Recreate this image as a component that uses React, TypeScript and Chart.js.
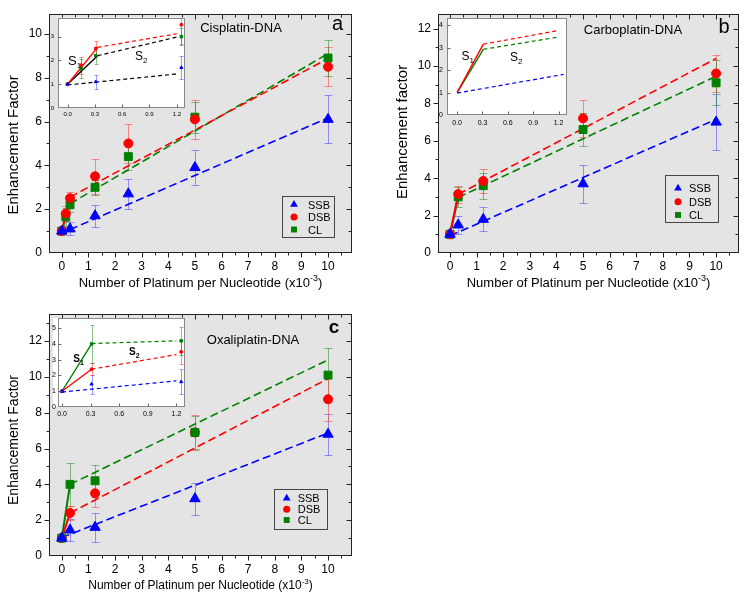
import { useEffect, useRef } from "react";
import { Chart, registerables } from "chart.js";

Chart.register(...registerables);

const FONT = "'Liberation Sans', Arial, Helvetica, sans-serif";
Chart.defaults.font.family = FONT;

const SERIES = ["SSB", "DSB", "CL"];
const STYLES = ["triangle", "circle", "rect"];
const COLORS = ["#0000ff", "#ff0000", "#008000"];
const ERR_COLORS = ["rgba(70,70,255,0.55)", "rgba(255,70,70,0.6)", "rgba(0,120,0,0.45)"];
const BLACK = "#000000";

// ---------- tick labels ----------
const MAIN_X_TICKS = [0, 1, 2, 3, 4, 5, 6, 7, 8, 9, 10];
const MAIN_X_MINOR = [0.5, 1.5, 2.5, 3.5, 4.5, 5.5, 6.5, 7.5, 8.5, 9.5, 10.5];
const A_Y_TICKS = [0, 2, 4, 6, 8, 10];
const A_Y_MINOR = [1, 3, 5, 7, 9];
const BC_Y_TICKS = [0, 2, 4, 6, 8, 10, 12];
const BC_Y_MINOR = [1, 3, 5, 7, 9, 11, 13];
const INSET_X_TICKS = [0, 0.3, 0.6, 0.9, 1.2];
const AI_Y_TICKS = [0, 1, 2, 3];
const BI_Y_TICKS = [0, 1, 2, 3, 4];
const CI_Y_TICKS = [0, 1, 2, 3, 4, 5];

// ---------- Panel a : Cisplatin-DNA ----------
const A_X_SSB = [0, 0.31, 1.25, 2.5, 5, 10];
const A_SSB = [1.0, 1.1, 1.7, 2.7, 3.9, 6.1];
const A_SSB_ERR = [0, 0.3, 0.5, 0.7, 0.8, 1.1];
const A_X = [0, 0.15, 0.31, 1.25, 2.5, 5, 10];
const A_DSB = [1.0, 1.8, 2.5, 3.5, 5.0, 6.1, 8.5];
const A_DSB_ERR = [0, 0.35, 0.3, 0.8, 0.9, 0.9, 0.9];
const A_CL = [1.0, 1.65, 2.2, 3.0, 4.4, 6.2, 8.9];
const A_CL_ERR = [0, 0.4, 0.35, 0.35, 0.6, 0.7, 0.8];
const A_S1_X = [0, 0.31];
const A_S1_DSB = [1.0, 2.55];
const A_S1_CL = [1.0, 2.25];
const A_S2_X = [0.31, 10];
const A_S2_SSB = [1.07, 6.17];
const A_S2_DSB = [2.55, 8.88];
const A_S2_CL = [2.25, 9.1];
// inset a
const AI_S1_X = [0, 0.33];
const AI_S1_DSB = [1.0, 2.55];
const AI_S1_CL = [1.0, 2.2];
const AI_S2_X = [0.33, 1.2];
const AI_S2_DSB = [2.55, 3.12];
const AI_S2_CL = [2.2, 2.98];
const AI_SSB_FIT_X = [0, 1.2];
const AI_SSB_FIT = [0.97, 1.43];

// ---------- Panel b : Carboplatin-DNA ----------
const B_X = [0, 0.31, 1.25, 5, 10];
const B_SSB = [1.0, 1.5, 1.8, 3.7, 7.0];
const B_SSB_ERR = [0, 0.5, 0.65, 1.0, 1.5];
const B_DSB = [1.0, 3.15, 3.85, 7.2, 9.6];
const B_DSB_ERR = [0, 0.45, 0.65, 1.0, 1.0];
const B_CL = [1.0, 3.0, 3.6, 6.6, 9.1];
const B_CL_ERR = [0, 0.55, 0.7, 0.9, 1.2];
const B_S1_X = [0, 0.31];
const B_S1_DSB = [1.0, 3.14];
const B_S1_CL = [1.0, 2.97];
const B_S2_X = [0.31, 10];
const B_S2_DSB = [3.14, 10.4];
const B_S2_CL = [2.97, 9.45];
const B_SSB_FIT_X = [0, 10];
const B_SSB_FIT = [0.92, 7.15];
// inset b
const BI_S1_X = [0, 0.31];
const BI_S1_DSB = [1.0, 3.16];
const BI_S1_CL = [1.0, 2.93];
const BI_S2_X = [0.31, 1.2];
const BI_S2_DSB = [3.16, 3.77];
const BI_S2_CL = [2.93, 3.48];
const BI_SSB_FIT_X = [0, 1.26];
const BI_SSB_FIT = [0.98, 1.81];

// ---------- Panel c : Oxaliplatin-DNA ----------
const C_X = [0, 0.31, 1.25, 5, 10];
const C_SSB = [1.0, 1.45, 1.6, 3.2, 6.8];
const C_SSB_ERR = [0, 0.6, 0.8, 0.9, 1.15];
const C_DSB = [1.0, 2.4, 3.5, 6.9, 8.75];
const C_DSB_ERR = [0, 0.4, 0.75, 1.0, 1.2];
const C_CL = [1.0, 4.0, 4.2, 6.9, 10.1];
const C_CL_ERR = [0, 1.2, 0.9, 0.9, 1.5];
const C_S1_X = [0, 0.31];
const C_S1_DSB = [1.0, 2.4];
const C_S1_CL = [1.0, 4.0];
const C_S2_X = [0.31, 10];
const C_S2_DSB = [2.4, 9.9];
const C_S2_CL = [4.0, 10.95];
const C_SSB_FIT_X = [0, 10];
const C_SSB_FIT = [1.03, 6.87];
// inset c
const CI_S1_X = [0, 0.31];
const CI_S1_DSB = [1.0, 2.4];
const CI_S1_CL = [1.0, 4.0];
const CI_S2_X = [0.31, 1.2];
const CI_S2_DSB = [2.4, 3.33];
const CI_S2_CL = [4.03, 4.2];
const CI_SSB_FIT_X = [0, 1.2];
const CI_SSB_FIT = [0.95, 1.66];

// ---------- helpers ----------
const toPts = (xs: number[], ys: number[]) => xs.map((x, i) => ({ x, y: ys[i] }));

function ptDs(k: number, xs: number[], ys: number[], err: number[], r: number) {
  return {
    label: SERIES[k],
    data: toPts(xs, ys),
    err,
    errColor: ERR_COLORS[k],
    showLine: false,
    pointStyle: STYLES[k],
    pointRadius: r,
    pointBackgroundColor: COLORS[k],
    pointBorderColor: COLORS[k],
    pointBorderWidth: 1,
  };
}

function lnDs(xs: number[], ys: number[], color: string, dash: number[], width: number) {
  return {
    data: toPts(xs, ys),
    showLine: true,
    borderColor: color,
    borderWidth: width,
    borderDash: dash,
    pointRadius: 0,
    fill: false,
    tension: 0,
  };
}

function drawRich(ctx: any, item: any) {
  const fontOf = (s: any) => `${s.b ? "bold " : ""}${s.s}px ${FONT}`;
  ctx.save();
  ctx.fillStyle = item.color || "#000";
  ctx.textBaseline = item.rot ? "middle" : "alphabetic";
  ctx.textAlign = "left";
  let total = 0;
  const widths = item.segs.map((s: any) => {
    ctx.font = fontOf(s);
    const w = ctx.measureText(s.t).width;
    total += w;
    return w;
  });
  ctx.translate(item.x, item.y);
  if (item.rot) ctx.rotate(-Math.PI / 2);
  let x = item.align === "center" ? -total / 2 : item.align === "right" ? -total : 0;
  item.segs.forEach((s: any, i: number) => {
    ctx.font = fontOf(s);
    ctx.fillText(s.t, x, s.dy || 0);
    x += widths[i];
  });
  ctx.restore();
}

function drawMarker(ctx: any, style: string, x: number, y: number, r: number, color: string) {
  ctx.save();
  ctx.fillStyle = color;
  ctx.beginPath();
  if (style === "triangle") {
    for (let i = 0; i < 3; i++) {
      const a = (i * 2 * Math.PI) / 3;
      const px = x + Math.sin(a) * r;
      const py = y - Math.cos(a) * r;
      if (i === 0) ctx.moveTo(px, py);
      else ctx.lineTo(px, py);
    }
    ctx.closePath();
  } else if (style === "circle") {
    ctx.arc(x, y, r, 0, Math.PI * 2);
  } else {
    const s = r * Math.SQRT1_2;
    ctx.rect(x - s, y - s, 2 * s, 2 * s);
  }
  ctx.fill();
  ctx.restore();
}

function makePlugin(o: any) {
  return {
    id: "panelDecor",
    beforeDraw(chart: any) {
      const { ctx, chartArea: a } = chart;
      const ext = o.bgExtendLeft || 0;
      ctx.save();
      ctx.fillStyle = o.bg;
      ctx.fillRect(a.left - ext, a.top, a.right - a.left + ext, a.bottom - a.top);
      ctx.restore();
    },
    beforeDatasetsDraw(chart: any) {
      const { ctx, chartArea: a } = chart;
      const xs = chart.scales.x;
      const ys = chart.scales.y;
      ctx.save();
      ctx.beginPath();
      ctx.rect(a.left, a.top, a.right - a.left, a.bottom - a.top);
      ctx.clip();
      chart.data.datasets.forEach((ds: any) => {
        if (!ds.err) return;
        ctx.strokeStyle = ds.errColor;
        ctx.lineWidth = 1;
        ds.data.forEach((p: any, j: number) => {
          const e = ds.err[j];
          if (!e) return;
          const x = Math.round(xs.getPixelForValue(p.x)) + 0.5;
          const y1 = Math.round(ys.getPixelForValue(p.y + e)) + 0.5;
          const y2 = Math.round(ys.getPixelForValue(p.y - e)) + 0.5;
          const c = o.cap;
          ctx.beginPath();
          ctx.moveTo(x, y1);
          ctx.lineTo(x, y2);
          ctx.moveTo(x - c, y1);
          ctx.lineTo(x + c, y1);
          ctx.moveTo(x - c, y2);
          ctx.lineTo(x + c, y2);
          ctx.stroke();
        });
      });
      ctx.restore();
    },
    afterDatasetsDraw(chart: any) {
      const { ctx, chartArea: a } = chart;
      const xs = chart.scales.x;
      const ys = chart.scales.y;
      const tk = o.tk;
      const L = Math.round(a.left) + 0.5;
      const R = Math.round(a.right) - 0.5;
      const T = Math.round(a.top) + 0.5;
      const B = Math.round(a.bottom) - 0.5;
      ctx.save();
      ctx.strokeStyle = o.frame;
      ctx.lineWidth = 1;
      ctx.strokeRect(L, T, R - L, B - T);
      ctx.strokeStyle = tk.color;
      ctx.beginPath();
      const xt = (v: number, len: number) => {
        const p = Math.round(xs.getPixelForValue(v)) + 0.5;
        if (p < L || p > R) return;
        ctx.moveTo(p, B);
        ctx.lineTo(p, B + tk.dir * len);
        if (tk.top) {
          ctx.moveTo(p, T);
          ctx.lineTo(p, T + len);
        }
      };
      const yt = (v: number, len: number) => {
        const p = Math.round(ys.getPixelForValue(v)) + 0.5;
        if (p < T || p > B) return;
        ctx.moveTo(L, p);
        ctx.lineTo(L - tk.dir * len, p);
        if (tk.right) {
          ctx.moveTo(R, p);
          ctx.lineTo(R - len, p);
        }
      };
      tk.xMajor.forEach((v: number) => xt(v, tk.major));
      (tk.xMinor || []).forEach((v: number) => xt(v, tk.minor));
      tk.yMajor.forEach((v: number) => yt(v, tk.major));
      (tk.yMinor || []).forEach((v: number) => yt(v, tk.minor));
      ctx.stroke();
      ctx.restore();
    },
    afterDraw(chart: any) {
      const ctx = chart.ctx;
      if (o.legend) {
        const lg = o.legend;
        ctx.save();
        ctx.strokeStyle = "#444";
        ctx.lineWidth = 1;
        ctx.strokeRect(Math.round(lg.box[0]) + 0.5, Math.round(lg.box[1]) + 0.5, Math.round(lg.box[2] - lg.box[0]), Math.round(lg.box[3] - lg.box[1]));
        SERIES.forEach((name, k) => {
          const y = lg.rows[k];
          drawMarker(ctx, STYLES[k], lg.mx, y, lg.r[k], COLORS[k]);
          drawRich(ctx, { segs: [{ t: name, s: 11 }], x: lg.tx, y: y + 4, align: "left" });
        });
        ctx.restore();
      }
      (o.texts || []).forEach((t: any) => drawRich(ctx, t));
    },
  };
}

function makeConfig(o: any) {
  const a = o.area;
  return {
    type: "scatter",
    data: { datasets: o.datasets },
    options: {
      responsive: false,
      maintainAspectRatio: false,
      animation: false,
      devicePixelRatio: 1,
      events: [],
      layout: { padding: { left: 0, top: a.t, right: o.w - a.r, bottom: 0 } },
      plugins: { legend: { display: false }, tooltip: { enabled: false }, title: { display: false } },
      scales: {
        x: {
          type: "linear",
          bounds: "data",
          min: o.x[0],
          max: o.x[1],
          afterBuildTicks: (s: any) => {
            s.ticks = o.xTicks.map((v: number) => ({ value: v }));
          },
          afterFit: (s: any) => {
            s.height = o.h - a.b;
          },
          grid: { display: false, drawTicks: false },
          border: { display: false },
          ticks: {
            autoSkip: false,
            maxRotation: 0,
            padding: o.xPad,
            color: "#000",
            font: { size: o.tickSize, family: FONT },
            callback: (v: any) => (o.xFixed ? Number(v).toFixed(1) : String(v)),
          },
        },
        y: {
          type: "linear",
          bounds: "data",
          min: o.y[0],
          max: o.y[1],
          afterBuildTicks: (s: any) => {
            s.ticks = o.yTicks.map((v: number) => ({ value: v }));
          },
          afterFit: (s: any) => {
            s.width = a.l;
          },
          grid: { display: false, drawTicks: false },
          border: { display: false },
          ticks: {
            autoSkip: false,
            padding: o.yPad,
            color: "#000",
            font: { size: o.tickSize, family: FONT },
            callback: (v: any) => String(v),
          },
        },
      },
    },
    plugins: [makePlugin(o)],
  };
}

const xTitle = (s: number) => [
  { t: "Number of Platinum per Nucleotide (x10", s },
  { t: "-3", s: Math.round(s * 0.7), dy: -Math.round(s * 0.45) },
  { t: ")", s },
];

const MAIN_BG = "#e4e4e4";
const MAIN_TK = (yMajor: number[], yMinor: number[]) => ({
  xMajor: MAIN_X_TICKS,
  xMinor: MAIN_X_MINOR,
  yMajor,
  yMinor,
  major: 5,
  minor: 3,
  dir: 1,
  top: true,
  right: true,
  color: "#222",
});
const INSET_TK = (yMajor: number[]) => ({
  xMajor: INSET_X_TICKS,
  yMajor,
  major: 3,
  minor: 2,
  dir: -1,
  top: false,
  right: false,
  color: "#666",
});

const R_MAIN = [6, 4.5, 5.6];

// ---------- panel specs ----------
const A_MAIN = {
  left: 0, top: 0, w: 370, h: 300,
  area: { l: 49, t: 12, r: 352, b: 253 },
  x: [-0.48, 10.9], y: [0, 10.9],
  xTicks: MAIN_X_TICKS, yTicks: A_Y_TICKS, tickSize: 12, xPad: 6, yPad: 7,
  bg: MAIN_BG, frame: "#222", cap: 4, tk: MAIN_TK(A_Y_TICKS, A_Y_MINOR),
  datasets: [
    ptDs(0, A_X_SSB, A_SSB, A_SSB_ERR, R_MAIN[0]),
    ptDs(1, A_X, A_DSB, A_DSB_ERR, R_MAIN[1]),
    ptDs(2, A_X, A_CL, A_CL_ERR, R_MAIN[2]),
    lnDs(A_S1_X, A_S1_DSB, COLORS[1], [], 2),
    lnDs(A_S1_X, A_S1_CL, COLORS[2], [], 2),
    lnDs(A_S2_X, A_S2_SSB, COLORS[0], [8, 4], 1.6),
    lnDs(A_S2_X, A_S2_DSB, COLORS[1], [8, 4], 1.6),
    lnDs(A_S2_X, A_S2_CL, COLORS[2], [8, 4], 1.6),
  ],
  legend: { box: [281.5, 196, 333.5, 237], rows: [204.5, 217, 229.5], mx: 294, tx: 308, r: [4.5, 3.5, 4.2] },
  texts: [
    { segs: [{ t: "Cisplatin-DNA", s: 13 }], x: 241, y: 31.5, align: "center" },
    { segs: [{ t: "a", s: 20 }], x: 337.5, y: 29.5, align: "center" },
    { segs: xTitle(13), x: 200.5, y: 287, align: "center" },
    { segs: [{ t: "Enhancement Factor", s: 15 }], x: 14, y: 145, align: "center", rot: true },
  ],
};

const A_INSET = {
  left: 40, top: 10, w: 152, h: 112,
  area: { l: 18, t: 4, r: 145, b: 98 },
  x: [-0.105, 1.29], y: [0, 3.8],
  xTicks: INSET_X_TICKS, xFixed: true, yTicks: AI_Y_TICKS, tickSize: 6, xPad: 3, yPad: 4,
  bg: "#ffffff", frame: "#888", cap: 2, tk: INSET_TK(AI_Y_TICKS),
  datasets: [
    ptDs(0, A_X_SSB, A_SSB, A_SSB_ERR, 1.8),
    ptDs(1, A_X, A_DSB, A_DSB_ERR, 1.5),
    ptDs(2, A_X, A_CL, A_CL_ERR, 1.8),
    lnDs(AI_S1_X, AI_S1_DSB, COLORS[1], [], 1.4),
    lnDs(AI_S1_X, AI_S1_CL, BLACK, [], 1.4),
    lnDs(AI_S2_X, AI_S2_DSB, COLORS[1], [4, 3], 1.2),
    lnDs(AI_S2_X, AI_S2_CL, BLACK, [4, 3], 1.2),
    lnDs(AI_SSB_FIT_X, AI_SSB_FIT, BLACK, [4, 3], 1.2),
  ],
  texts: [
    { segs: [{ t: "S", s: 13 }, { t: "1", s: 8, dy: 3 }], x: 28, y: 55, align: "left" },
    { segs: [{ t: "S", s: 12 }, { t: "2", s: 8, dy: 3 }], x: 95, y: 50, align: "left" },
  ],
};

const B_MAIN = {
  left: 370, top: 0, w: 379, h: 300,
  area: { l: 68, t: 4, r: 369, b: 253 },
  x: [-0.45, 10.86], y: [0, 12.77],
  xTicks: MAIN_X_TICKS, yTicks: BC_Y_TICKS, tickSize: 12, xPad: 6, yPad: 7,
  bg: MAIN_BG, frame: "#222", cap: 4, tk: MAIN_TK(BC_Y_TICKS, BC_Y_MINOR),
  datasets: [
    ptDs(0, B_X, B_SSB, B_SSB_ERR, R_MAIN[0]),
    ptDs(1, B_X, B_DSB, B_DSB_ERR, R_MAIN[1]),
    ptDs(2, B_X, B_CL, B_CL_ERR, R_MAIN[2]),
    lnDs(B_S1_X, B_S1_DSB, COLORS[1], [], 2),
    lnDs(B_S1_X, B_S1_CL, COLORS[2], [], 2),
    lnDs(B_SSB_FIT_X, B_SSB_FIT, COLORS[0], [8, 4], 1.6),
    lnDs(B_S2_X, B_S2_DSB, COLORS[1], [8, 4], 1.6),
    lnDs(B_S2_X, B_S2_CL, COLORS[2], [8, 4], 1.6),
  ],
  legend: { box: [295, 175, 348, 221.5], rows: [188.3, 201.7, 215], mx: 308, tx: 319, r: [4.5, 3.5, 4.2] },
  texts: [
    { segs: [{ t: "Carboplatin-DNA", s: 13 }], x: 263, y: 33.5, align: "center" },
    { segs: [{ t: "b", s: 20 }], x: 354, y: 33, align: "center" },
    { segs: xTitle(13), x: 218.5, y: 287, align: "center" },
    { segs: [{ t: "Enhancement factor", s: 15 }], x: 33, y: 132, align: "center", rot: true },
  ],
};

const B_INSET = {
  left: 428, top: 10, w: 148, h: 120,
  area: { l: 19, t: 6, r: 139, b: 105 },
  x: [-0.12, 1.3], y: [0, 4.32],
  xTicks: INSET_X_TICKS, xFixed: true, yTicks: BI_Y_TICKS, tickSize: 7, xPad: 4, yPad: 4,
  bg: "#ffffff", frame: "#888", cap: 2, tk: INSET_TK(BI_Y_TICKS),
  datasets: [
    lnDs(BI_S1_X, BI_S1_DSB, COLORS[1], [], 1.4),
    lnDs(BI_S1_X, BI_S1_CL, COLORS[2], [], 1.4),
    lnDs(BI_S2_X, BI_S2_DSB, COLORS[1], [4, 3], 1.2),
    lnDs(BI_S2_X, BI_S2_CL, COLORS[2], [4, 3], 1.2),
    lnDs(BI_SSB_FIT_X, BI_SSB_FIT, COLORS[0], [4, 3], 1.2),
  ],
  texts: [
    { segs: [{ t: "S", s: 12 }, { t: "1", s: 8, dy: 3 }], x: 33.5, y: 50, align: "left" },
    { segs: [{ t: "S", s: 12 }, { t: "2", s: 8, dy: 3 }], x: 82, y: 51, align: "left" },
  ],
};

const C_MAIN = {
  left: 0, top: 300, w: 370, h: 304,
  area: { l: 49, t: 12, r: 352, b: 256 },
  x: [-0.48, 10.9], y: [0, 13.5],
  xTicks: MAIN_X_TICKS, yTicks: BC_Y_TICKS, tickSize: 12, xPad: 6, yPad: 7,
  bg: MAIN_BG, frame: "#222", cap: 4, tk: MAIN_TK(BC_Y_TICKS, BC_Y_MINOR),
  datasets: [
    ptDs(0, C_X, C_SSB, C_SSB_ERR, R_MAIN[0]),
    ptDs(2, C_X, C_CL, C_CL_ERR, R_MAIN[2]),
    ptDs(1, C_X, C_DSB, C_DSB_ERR, R_MAIN[1]),
    lnDs(C_S1_X, C_S1_DSB, COLORS[1], [], 2),
    lnDs(C_S1_X, C_S1_CL, COLORS[2], [], 2),
    lnDs(C_SSB_FIT_X, C_SSB_FIT, COLORS[0], [8, 4], 1.6),
    lnDs(C_S2_X, C_S2_DSB, COLORS[1], [8, 4], 1.6),
    lnDs(C_S2_X, C_S2_CL, COLORS[2], [8, 4], 1.6),
  ],
  legend: { box: [273.5, 188.5, 326.5, 228.5], rows: [198.3, 209.3, 220], mx: 286.7, tx: 297.7, r: [4.5, 3.5, 4.2] },
  texts: [
    { segs: [{ t: "Oxaliplatin-DNA", s: 13 }], x: 253, y: 44, align: "center" },
    { segs: [{ t: "c", s: 19, b: true }], x: 334, y: 32.7, align: "center" },
    { segs: xTitle(12), x: 200.5, y: 289, align: "center" },
    { segs: [{ t: "Enhancement Factor", s: 14 }], x: 14, y: 140, align: "center", rot: true },
  ],
};

const C_INSET = {
  left: 35, top: 308, w: 160, h: 112,
  area: { l: 23, t: 10, r: 150, b: 99 },
  x: [-0.042, 1.29], y: [0, 5.65],
  xTicks: INSET_X_TICKS, xFixed: true, yTicks: CI_Y_TICKS, tickSize: 7, xPad: 3, yPad: 2,
  bg: "#ffffff", bgExtendLeft: 5, frame: "#888", cap: 2, tk: INSET_TK(CI_Y_TICKS),
  datasets: [
    ptDs(0, C_X, C_SSB, C_SSB_ERR, 1.8),
    ptDs(1, C_X, C_DSB, C_DSB_ERR, 1.5),
    ptDs(2, C_X, C_CL, C_CL_ERR, 1.8),
    lnDs(CI_S1_X, CI_S1_DSB, COLORS[1], [], 1.4),
    lnDs(CI_S1_X, CI_S1_CL, COLORS[2], [], 1.4),
    lnDs(CI_S2_X, CI_S2_DSB, COLORS[1], [4, 3], 1.2),
    lnDs(CI_S2_X, CI_S2_CL, COLORS[2], [4, 3], 1.2),
    lnDs(CI_SSB_FIT_X, CI_SSB_FIT, COLORS[0], [4, 3], 1.2),
  ],
  texts: [
    { segs: [{ t: "S", s: 10, b: true }, { t: "1", s: 7, b: true, dy: 3 }], x: 38.3, y: 53.7, align: "left" },
    { segs: [{ t: "S", s: 10, b: true }, { t: "2", s: 7, b: true, dy: 3 }], x: 94, y: 47, align: "left" },
  ],
};

function ChartBox({ spec }: { spec: any }) {
  const ref = useRef<HTMLCanvasElement | null>(null);
  useEffect(() => {
    if (!ref.current) return;
    const chart = new Chart(ref.current, makeConfig(spec) as any);
    return () => chart.destroy();
  }, [spec]);
  return (
    <canvas
      ref={ref}
      width={spec.w}
      height={spec.h}
      style={{ position: "absolute", left: spec.left, top: spec.top, width: spec.w, height: spec.h }}
    />
  );
}

export default function App() {
  return (
    <div style={{ position: "absolute", left: 0, top: 0, width: 749, height: 604, background: "#ffffff", overflow: "hidden" }}>
      <ChartBox spec={A_MAIN} />
      <ChartBox spec={B_MAIN} />
      <ChartBox spec={C_MAIN} />
      <ChartBox spec={A_INSET} />
      <ChartBox spec={B_INSET} />
      <ChartBox spec={C_INSET} />
    </div>
  );
}
